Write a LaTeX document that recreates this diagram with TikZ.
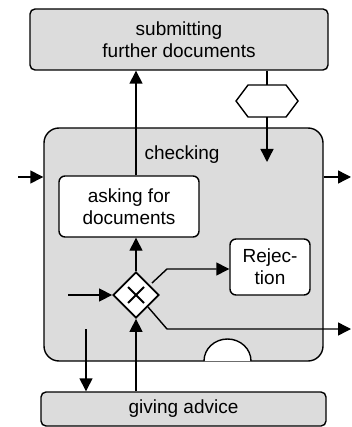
\documentclass[tikz,border=0pt]{standalone}
\usepackage{fontspec}
\setmainfont{Liberation Sans}
\usetikzlibrary{shapes.geometric,arrows.meta,calc}
\definecolor{boxgray}{RGB}{220,220,220}
\tikzset{
  lbl/.style={font=\fontsize{19}{22}\selectfont, align=center},
  actbox/.style={draw, line width=1.4pt, fill=boxgray, inner sep=0pt, lbl},
  subbox/.style={draw, line width=1.4pt, fill=white, inner sep=0pt, rounded corners=6pt, lbl},
  flow/.style={line width=1.4pt, -{Triangle[length=13pt,width=13pt]}},
  plain/.style={line width=1.4pt},
}
\begin{document}
\begin{tikzpicture}[x=1pt,y=-1pt]
\useasboundingbox (0,0) rectangle (351,427);

% outer activities
\node[actbox, rounded corners=5pt, minimum width=298pt, minimum height=61pt] (top) at (179,39.5) {submitting\\further documents};
\node[actbox, rounded corners=15pt, minimum width=279pt, minimum height=233pt] (check) at (183.5,244.5) {};
\node[lbl, inner sep=0pt] (checklbl) at (182,155) {checking};
\node[actbox, rounded corners=5pt, minimum width=285pt, minimum height=34pt] (advice) at (183.5,409) {giving advice};

% inner activities
\node[subbox, minimum width=140pt, minimum height=61pt] (ask) at (129,206.5) {asking for\\documents};
\node[subbox, minimum width=80pt, minimum height=56pt] (rej) at (270,267) {Rejec-\\tion};

% XOR gateway
\node[draw, diamond, aspect=1, line width=1.8pt, fill=white, inner sep=0pt, minimum size=46pt] (gw) at (136,295) {};
\draw[line width=1.8pt] ($(gw.center)+(-8,-8)$) -- ($(gw.center)+(8,8)$)
                        ($(gw.center)+(8,-8)$) -- ($(gw.center)+(-8,8)$);

% hexagon on the upper flow
\coordinate (hexN) at (267,85);
\coordinate (hexS) at (267,117);
\draw[plain, fill=white] (236,101) -- (248,85) -- (286,85) -- (298,101) -- (286,117) -- (248,117) -- cycle;
\draw[plain] (top.south -| hexN) -- (hexN);
\coordinate (hexEnd) at (267,162);
\draw[flow] (hexS) -- (hexEnd);

% half-circle on the lower edge of "checking"
\draw[plain, fill=white] (204,361) arc[start angle=180, end angle=0, x radius=23.5pt, y radius=22pt];

% flows
\coordinate (inL) at (18,177);
\coordinate (outR) at (351,177);
\draw[flow] (inL) -- (inL -| check.west);
\draw[flow] (outR -| check.east) -- (outR);

\draw[flow] (gw.north |- ask.north) -- (gw.north |- top.south);
\draw[flow] (gw.north) -- (gw.north |- ask.south);
\coordinate (gwIn) at (68,295);
\draw[flow] (gwIn) -- (gw.west);
\draw[flow] (gw.south |- advice.north) -- (gw.south);

\coordinate (downStart) at (86,329);
\draw[flow] (downStart) -- (downStart |- advice.north);

\coordinate (rejBend) at (167,269);
\draw[flow] ($(gw.north east)+(4,0)$) -- (rejBend) -- (rejBend -| rej.west);

\coordinate (lowBend) at (167,329);
\coordinate (outLow) at (351,329);
\draw[flow] (gw.south east) -- (lowBend) -- (outLow);
\end{tikzpicture}
\end{document}
